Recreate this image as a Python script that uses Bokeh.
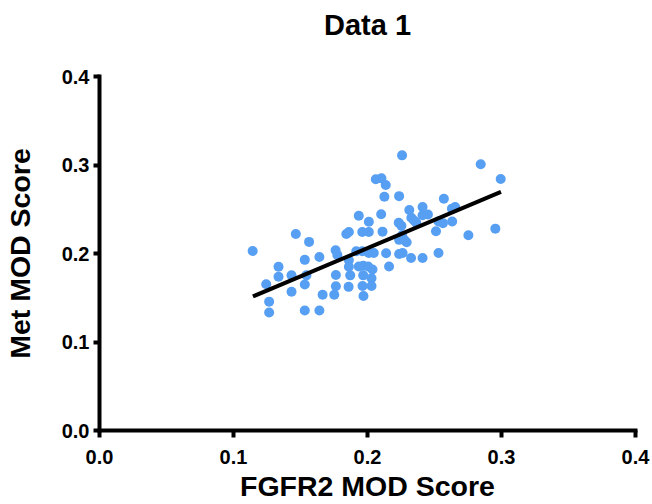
from bokeh.plotting import figure
from bokeh.models import FixedTicker, PrintfTickFormatter, Range1d, Title
from bokeh.embed import file_html
from bokeh.resources import INLINE

# Data (FGFR2 MOD Score vs Met MOD Score)
fgfr2 = [0.1935, 0.1465, 0.1564, 0.1842, 0.1861, 0.1143, 0.1762, 0.1775, 0.1916, 0.1641,
         0.1532, 0.1861, 0.1336, 0.1861, 0.1935, 0.1336, 0.1433, 0.1544, 0.1764, 0.1871,
         0.1244, 0.1532, 0.1764, 0.1859, 0.1433, 0.1665, 0.1752, 0.1266, 0.1266, 0.1532,
         0.1641, 0.1961, 0.2010, 0.2010, 0.1961, 0.2010, 0.2047, 0.1968, 0.2005, 0.2037,
         0.1968, 0.2030, 0.1963, 0.2030, 0.1970, 0.2258, 0.2845, 0.2994, 0.2062, 0.2104,
         0.2136, 0.2126, 0.2236, 0.2570, 0.2411, 0.2312, 0.2630, 0.2654, 0.2102, 0.2411,
         0.2451, 0.2327, 0.2347, 0.2233, 0.2253, 0.2364, 0.2530, 0.2563, 0.2632, 0.2112,
         0.2511, 0.2954, 0.2753, 0.2258, 0.2236, 0.2273, 0.2292, 0.2139, 0.2236, 0.2262,
         0.2325, 0.2411, 0.2530, 0.2161]
met = [0.2426, 0.2221, 0.2131, 0.2221, 0.2243, 0.2028, 0.2036, 0.1983, 0.2025, 0.1961,
       0.1928, 0.1924, 0.1850, 0.1850, 0.1853, 0.1738, 0.1753, 0.1753, 0.1757, 0.1753,
       0.1652, 0.1649, 0.1630, 0.1623, 0.1568, 0.1534, 0.1534, 0.1456, 0.1334, 0.1356,
       0.1356, 0.2243, 0.2243, 0.2359, 0.2025, 0.2006, 0.2006, 0.1861, 0.1853, 0.1820,
       0.1753, 0.1721, 0.1632, 0.1632, 0.1519, 0.3109, 0.3008, 0.2841, 0.2838, 0.2849,
       0.2774, 0.2641, 0.2648, 0.2618, 0.2526, 0.2492, 0.2507, 0.2526, 0.2443, 0.2432,
       0.2440, 0.2403, 0.2373, 0.2348, 0.2314, 0.2348, 0.2362, 0.2343, 0.2362, 0.2247,
       0.2251, 0.2281, 0.2206, 0.2206, 0.2154, 0.2154, 0.2128, 0.2002, 0.1994, 0.2006,
       0.1950, 0.1950, 0.2006, 0.1853]

# Linear fit line endpoints
fit_x = [0.1145, 0.2996]
fit_y = [0.1515, 0.2696]

ticks = [0.0, 0.1, 0.2, 0.3, 0.4]
title_text = "Data 1"

FONT = "Liberation Sans"
BLUE = "#579FF2"

p = figure(width=652, height=504, output_backend="svg", toolbar_location=None,
           x_range=Range1d(0, 0.4), y_range=Range1d(0, 0.4),
           min_border_left=97, min_border_right=17,
           min_border_top=76, min_border_bottom=69)
p.title.text = ""

p.outline_line_color = None
p.grid.grid_line_color = None
p.background_fill_color = "white"
p.border_fill_color = "white"

# white spacer between title and plot area, then the real title above it
spacer = Title(text=".", text_color="white", text_font=FONT, text_font_size="29px",
               standoff=14)
p.add_layout(spacer, "above")
main_title = Title(text=title_text, text_font=FONT, text_font_size="29px",
                   text_font_style="bold", text_color="black", align="center",
                   vertical_align="bottom", standoff=0)
p.add_layout(main_title, "above")

for ax in (p.xaxis[0], p.yaxis[0]):
    ax.ticker = FixedTicker(ticks=ticks)
    ax.formatter = PrintfTickFormatter(format="%.1f")
    ax.axis_line_width = 4
    ax.axis_line_color = "black"
    ax.axis_line_cap = "square"
    ax.major_tick_line_width = 4
    ax.major_tick_line_color = "black"
    ax.major_tick_in = 0
    ax.major_tick_out = 7
    ax.minor_tick_line_color = None
    ax.major_label_text_font = FONT
    ax.major_label_text_font_size = "20px"
    ax.major_label_text_font_style = "bold"
    ax.major_label_text_color = "black"
    ax.axis_label_text_font = FONT
    ax.axis_label_text_font_size = "28.5px"
    ax.axis_label_text_font_style = "bold"
    ax.axis_label_text_color = "black"

p.xaxis.axis_label = "FGFR2 MOD Score"
p.yaxis.axis_label = "Met MOD Score"
p.xaxis.major_label_standoff = 12
p.xaxis.axis_label_standoff = 3
p.yaxis.major_tick_out = 6
p.yaxis.major_label_standoff = 4
p.yaxis.axis_label_standoff = 23

p.scatter(fgfr2, met, size=10, fill_color=BLUE, line_color=None)
p.line(fit_x, fit_y, line_color="black", line_width=4)

open("out.html", "w").write(file_html(p, INLINE))
